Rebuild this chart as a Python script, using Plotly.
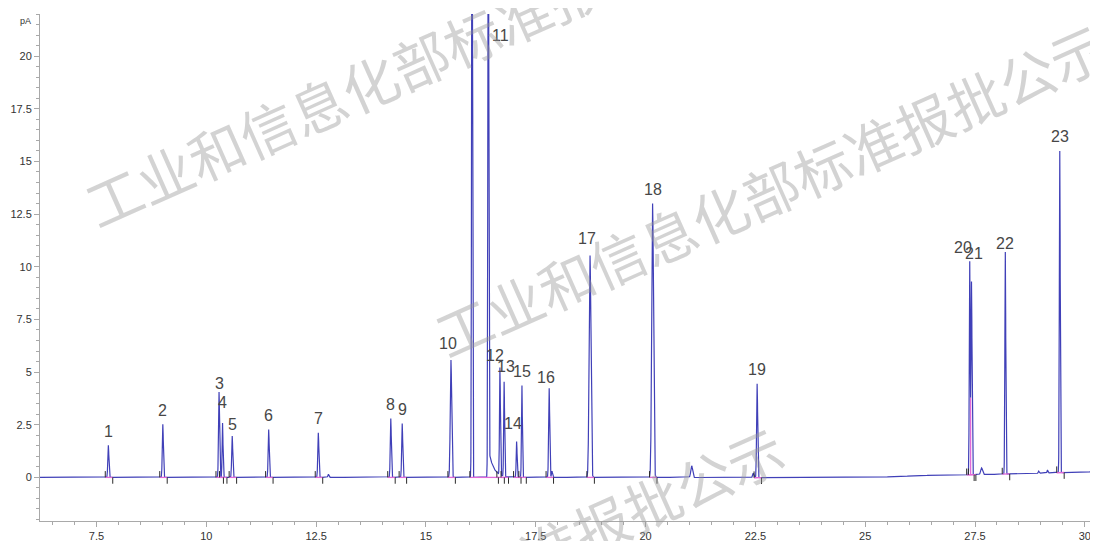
import numpy as np
import plotly.graph_objects as go

# ---------------- data ----------------
peak_labels = [str(i) for i in range(1, 24)]
peak_times = [7.77, 9.01, 10.29, 10.37, 10.59, 11.42, 12.55, 14.20, 14.46, 15.57,
              16.42, 16.685, 16.78, 17.065, 17.185, 17.805, 18.735, 20.16, 22.54,
              27.38, 27.42, 28.19, 29.43]
peak_heights = [1.52, 2.52, 4.05, 2.58, 1.96, 2.27, 2.12, 2.80, 2.56, 5.57,
                32.0, 5.12, 4.49, 1.71, 4.38, 4.25, 10.55, 13.0, 4.45,
                10.23, 9.3, 10.7, 15.5]
peak_sigmas = [0.012, 0.012, 0.012, 0.010, 0.012, 0.012, 0.012, 0.012, 0.012, 0.016,
               0.010, 0.010, 0.010, 0.010, 0.010, 0.012, 0.020, 0.020, 0.012,
               0.010, 0.012, 0.010, 0.010]

# unlabeled peaks (large solvent-type peak and small bumps)
extra_times = [16.05, 12.78, 17.87, 21.05, 22.45, 27.65, 28.95, 29.15]
extra_heights = [36.0, 0.15, 0.30, 0.55, 0.20, 0.45, 0.30, 0.35]
extra_sigmas = [0.010, 0.012, 0.012, 0.020, 0.015, 0.020, 0.010, 0.010]

# tailing after peak 11
tail_start, tail_amp, tail_tau = 16.42, 1.4, 0.11

# baseline drift anchors
baseline_t = [6.2, 21.0, 22.0, 24.5, 25.5, 26.5, 27.3, 28.0, 29.0, 30.35]
baseline_y = [0.0, 0.0, -0.02, 0.0, 0.02, 0.10, 0.12, 0.15, 0.20, 0.28]

x_tickvals = [7.5, 10, 12.5, 15, 17.5, 20, 22.5, 25, 27.5, 30]
x_ticktext = ["7.5", "10", "12.5", "15", "17.5", "20", "22.5", "25", "27.5", "30"]
y_tickvals = [0, 2.5, 5, 7.5, 10, 12.5, 15, 17.5, 20]
y_ticktext = ["0", "2.5", "5", "7.5", "10", "12.5", "15", "17.5", "20"]

watermark = "工业和信息化部标准报批公示"

# ---------------- styling ----------------
X_RANGE = [6.214, 30.30]
Y_RANGE = [-2.07, 22.0]
TRACE_COLOR = "#4040b8"
PINK = "#e26ad8"
AXIS_COLOR = "#a9a9a9"
LABEL_FONT = dict(family="Liberation Sans Narrow, Liberation Sans, Arial", size=16, color="#474747")
TICK_FONT = dict(family="Liberation Sans, Arial", size=11, color="#333333")
NUDGE = {"3": (0, -5), "4": (0, 7), "5": (0, -2), "10": (-3, 3), "12": (-5, 0),
         "13": (2, 2), "14": (-4, 4), "16": (-3, -4), "17": (-3, 3), "20": (-7, 0),
         "21": (3, 14), "22": (0, -5)}
INT_OVERRIDE = {"11": (16.0, 16.65)}

# page body has an 8px margin: figure is drawn from page (8, 8)
OFF = 8
FIG_W, FIG_H = 1098 - OFF, 541 - OFF
# plot area in page pixels
P_L, P_R, P_T, P_B = 40, 1098, 14, 521

# ---------------- build the signal ----------------
t = np.arange(6.2, 30.35, 0.002)
base = np.interp(t, baseline_t, baseline_y)
sig = base.copy()


def base_at(x):
    return float(np.interp(x, baseline_t, baseline_y))


for tm, h, s in zip(peak_times + extra_times, peak_heights + extra_heights,
                    peak_sigmas + extra_sigmas):
    amp = h - base_at(tm) if h < 30 else h
    sig = sig + amp * np.exp(-0.5 * ((t - tm) / s) ** 2)
mask = t >= tail_start
sig[mask] += tail_amp * np.exp(-(t[mask] - tail_start) / tail_tau) * (1 - np.exp(-(t[mask] - tail_start) / 0.005))

fig = go.Figure()
fig.add_trace(go.Scatter(x=t, y=sig, mode="lines", line=dict(color=TRACE_COLOR, width=1.2),
                         hoverinfo="skip", showlegend=False))

# integration baselines (pink) and start/end markers (dark)
px_, py_ = [], []
kx, ky = [], []
for lab, tm in zip(peak_labels, peak_times):
    a, b = INT_OVERRIDE.get(lab, (tm - 0.07, tm + 0.10))
    px_ += [a, b, None]
    py_ += [base_at(a), base_at(b), None]
    kx += [a, a, None, b, b, None]
    ky += [base_at(a), base_at(a) + 0.3, None, base_at(b), base_at(b) - 0.3, None]
valley_t = 27.40
valley_y = float(np.interp(valley_t, t, sig))
px_ += [valley_t, valley_t, None]
py_ += [base_at(valley_t), valley_y, None]

fig.add_trace(go.Scatter(x=px_, y=py_, mode="lines", line=dict(color=PINK, width=1.3),
                         hoverinfo="skip", showlegend=False))
fig.add_trace(go.Scatter(x=kx, y=ky, mode="lines", line=dict(color="#2a2a2a", width=1),
                         hoverinfo="skip", showlegend=False))

# peak labels
for lab, tm, h in zip(peak_labels, peak_times, peak_heights):
    dx, dy = NUDGE.get(lab, (0, 0))
    if h > Y_RANGE[1]:
        yv, ys, dx = 21.0, 0, 12
    else:
        yv, ys = h, 14 + dy
    fig.add_annotation(x=tm, y=yv, text=lab, showarrow=False, xanchor="center", yanchor="middle",
                       xshift=dx, yshift=ys, font=LABEL_FONT)

# unit labels
fig.add_annotation(x=0, xref="paper", y=21.66, yref="y", text="pA", showarrow=False,
                   xanchor="right", yanchor="middle", xshift=-7,
                   font=dict(family="Liberation Sans, Arial", size=9, color="#333333"))
fig.add_annotation(x=(1090 - P_L) / (P_R - P_L), y=0, xref="paper", yref="paper", text="min",
                   showarrow=False, xanchor="left", yanchor="top", yshift=-7, borderpad=0,
                   font=TICK_FONT)

# watermarks (page-pixel centres converted to paper coords)
for cx, cy in [(420, 58), (770, 188), (447, 591)]:
    fig.add_annotation(x=(cx - P_L) / (P_R - P_L), y=(P_B - cy) / (P_B - P_T),
                       xref="paper", yref="paper", text=watermark, showarrow=False,
                       textangle=-24, xanchor="center", yanchor="middle",
                       font=dict(family="Noto Sans CJK SC", size=56, color="rgba(150,150,150,0.42)"))

fig.update_layout(
    width=FIG_W, height=FIG_H,
    margin=dict(l=P_L - OFF, r=FIG_W - (P_R - OFF), t=P_T - OFF, b=FIG_H - (P_B - OFF), pad=0),
    paper_bgcolor="white", plot_bgcolor="white",
    showlegend=False,
    xaxis=dict(range=X_RANGE, tickvals=x_tickvals, ticktext=x_ticktext, showgrid=False,
               zeroline=False, showline=True, linecolor=AXIS_COLOR, linewidth=1,
               ticks="outside", ticklen=5, tickcolor=AXIS_COLOR, tickfont=TICK_FONT,
               automargin=False,
               minor=dict(dtick=0.5, tick0=0, ticks="outside", ticklen=3, tickcolor=AXIS_COLOR,
                          showgrid=False)),
    yaxis=dict(range=Y_RANGE, tickvals=y_tickvals, ticktext=y_ticktext, showgrid=False,
               zeroline=False, showline=True, linecolor=AXIS_COLOR, linewidth=1,
               ticks="outside", ticklen=5, tickcolor=AXIS_COLOR, tickfont=TICK_FONT,
               automargin=False,
               minor=dict(dtick=0.5, tick0=0, ticks="outside", ticklen=3, tickcolor=AXIS_COLOR,
                          showgrid=False)),
)

fig.write_html("out.html")
